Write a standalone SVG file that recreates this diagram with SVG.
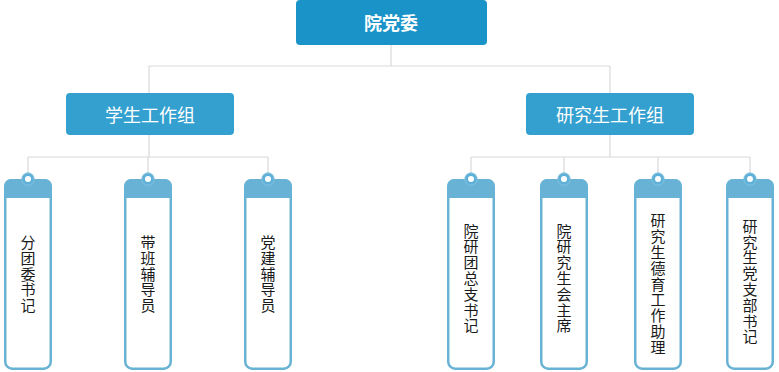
<svg xmlns="http://www.w3.org/2000/svg" xmlns:xlink="http://www.w3.org/1999/xlink" width="779" height="372" viewBox="0 0 779 372">
<style>
.conn{fill:none;stroke:#d9d9d9;stroke-width:1.2}
.top{fill:#1a94c8}
.grp{fill:#34a0cf}
.ht{font-family:"Noto Sans CJK SC","Liberation Sans",sans-serif;fill:#fff;text-anchor:middle;dominant-baseline:central}
.ct{font-family:"Noto Sans CJK SC","Liberation Sans",sans-serif;fill:#1a1a1a;font-size:15px;text-anchor:middle;dominant-baseline:central}
</style>
<defs>
<g id="card">
<rect x="-22.75" y="180.25" width="45.5" height="188.5" rx="7" fill="#fff" stroke="#68b3d5" stroke-width="2.5"/>
<path d="M-24,198 V186 A7,7 0 0 1 -17,179 H17 A7,7 0 0 1 24,186 V198 Z" fill="#68b3d5"/>
<circle cx="0" cy="179" r="6.2" fill="#5fb0d8" stroke="#8cc6e2" stroke-width="0.8"/>
<circle cx="0" cy="179" r="3" fill="#fff"/>
</g>
</defs>
<g id="connectors">
<path class="conn" d="M391,45 V66 M149,66 H610 M149,66 V93 M610,66 V93"/>
<path class="conn" d="M149,135 V157 M28,157 H268 M28,157 V173 M148,157 V173 M268,157 V173"/>
<path class="conn" d="M610,135 V157 M471,157 H750 M471,157 V173 M564,157 V173 M658,157 V173 M750,157 V173"/>
</g>
<g id="n-root">
<rect class="top" x="296" y="0" width="191" height="45" rx="4"/>
<text class="ht" x="391" y="22" font-size="18" font-weight="bold">院党委</text>
</g>
<g id="n-xs">
<rect class="grp" x="66" y="93" width="168" height="42" rx="4"/>
<text class="ht" x="150" y="114" font-size="18">学生工作组</text>
</g>
<g id="n-yjs">
<rect class="grp" x="526" y="93" width="168" height="42" rx="4"/>
<text class="ht" x="610" y="114" font-size="18">研究生工作组</text>
</g>
<g id="c1"><use xlink:href="#card" transform="translate(28,0)"/><text class="ct"><tspan x="28" y="240.9">分</tspan><tspan x="28" y="256.7">团</tspan><tspan x="28" y="272.5">委</tspan><tspan x="28" y="288.3">书</tspan><tspan x="28" y="304.1">记</tspan></text></g>
<g id="c2"><use xlink:href="#card" transform="translate(148,0)"/><text class="ct"><tspan x="148" y="240.9">带</tspan><tspan x="148" y="256.7">班</tspan><tspan x="148" y="272.5">辅</tspan><tspan x="148" y="288.3">导</tspan><tspan x="148" y="304.1">员</tspan></text></g>
<g id="c3"><use xlink:href="#card" transform="translate(268,0)"/><text class="ct"><tspan x="268" y="240.9">党</tspan><tspan x="268" y="256.7">建</tspan><tspan x="268" y="272.5">辅</tspan><tspan x="268" y="288.3">导</tspan><tspan x="268" y="304.1">员</tspan></text></g>
<g id="c4"><use xlink:href="#card" transform="translate(471,0)"/><text class="ct"><tspan x="471" y="229.6">院</tspan><tspan x="471" y="245.4">研</tspan><tspan x="471" y="261.2">团</tspan><tspan x="471" y="277">总</tspan><tspan x="471" y="292.8">支</tspan><tspan x="471" y="308.6">书</tspan><tspan x="471" y="324.4">记</tspan></text></g>
<g id="c5"><use xlink:href="#card" transform="translate(564,0)"/><text class="ct"><tspan x="564" y="229.6">院</tspan><tspan x="564" y="245.4">研</tspan><tspan x="564" y="261.2">究</tspan><tspan x="564" y="277">生</tspan><tspan x="564" y="292.8">会</tspan><tspan x="564" y="308.6">主</tspan><tspan x="564" y="324.4">席</tspan></text></g>
<g id="c6"><use xlink:href="#card" transform="translate(658,0)"/><text class="ct"><tspan x="658" y="219.3">研</tspan><tspan x="658" y="235.1">究</tspan><tspan x="658" y="250.9">生</tspan><tspan x="658" y="266.7">德</tspan><tspan x="658" y="282.5">育</tspan><tspan x="658" y="298.3">工</tspan><tspan x="658" y="314.1">作</tspan><tspan x="658" y="329.9">助</tspan><tspan x="658" y="345.7">理</tspan></text></g>
<g id="c7"><use xlink:href="#card" transform="translate(750,0)"/><text class="ct"><tspan x="750" y="224.7">研</tspan><tspan x="750" y="240.5">究</tspan><tspan x="750" y="256.3">生</tspan><tspan x="750" y="272.1">党</tspan><tspan x="750" y="287.9">支</tspan><tspan x="750" y="303.7">部</tspan><tspan x="750" y="319.5">书</tspan><tspan x="750" y="335.3">记</tspan></text></g>
</svg>
